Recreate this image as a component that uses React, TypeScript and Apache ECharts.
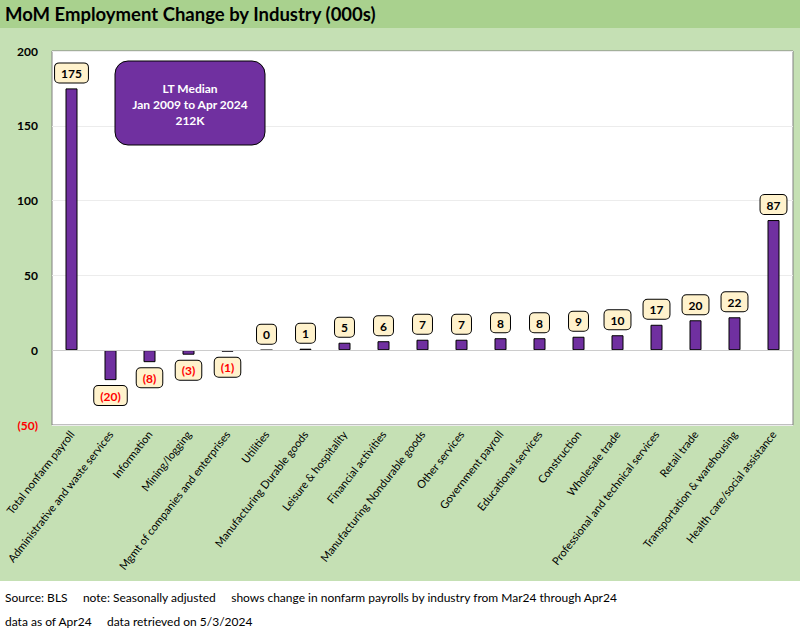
import React, { useEffect, useRef } from "react";
import * as echarts from "echarts";

const categories = [
  "Total nonfarm payroll",
  "Administrative and waste services",
  "Information",
  "Mining/logging",
  "Mgmt of companies and enterprises",
  "Utilities",
  "Manufacturing Durable goods",
  "Leisure & hospitality",
  "Financial activities",
  "Manufacturing Nondurable goods",
  "Other services",
  "Government payroll",
  "Educational services",
  "Construction",
  "Wholesale trade",
  "Professional and technical services",
  "Retail trade",
  "Transportation & warehousing",
  "Health care/social assistance",
];

const values = [175, -20, -8, -3, -1, 0, 1, 5, 6, 7, 7, 8, 8, 9, 10, 17, 20, 22, 87];

const yTicks = [-50, 0, 50, 100, 150, 200];

const titleText = "MoM Employment Change by Industry (000s)";
const boxLines = ["LT Median", "Jan 2009 to Apr 2024", "212K"];
const footer1 =
  "Source: BLS     note: Seasonally adjusted     shows change in nonfarm payrolls by industry from Mar24 through Apr24";
const footer2 = "data as of Apr24     data retrieved on 5/3/2024";

const FONT = "Lato";
const fmt = (v: number) => (v < 0 ? `(${Math.abs(v)})` : `${v}`);

export default function App() {
  const ref = useRef<HTMLDivElement>(null);
  useEffect(() => {
    if (!ref.current) return;
    const chart = echarts.init(ref.current, undefined, { renderer: "svg" });
    const data = values.map((v) => ({
      value: v,
      label: {
        show: true,
        position: v < 0 ? "bottom" : "top",
        distance: 6,
        formatter: () => fmt(v),
        color: v < 0 ? "#ff0000" : "#000000",
        fontWeight: "bold",
        fontSize: 12,
        fontFamily: FONT,
        backgroundColor: "#fff2cc",
        borderColor: "#000000",
        borderWidth: 1,
        borderRadius: 4,
        padding: [4, 6, 3, 6],
      },
    }));
    chart.setOption({
      animation: false,
      backgroundColor: "#ffffff",
      textStyle: { fontFamily: FONT },
      graphic: [
        {
          type: "rect",
          z: -10,
          silent: true,
          shape: { x: 0, y: 0, width: 800, height: 28 },
          style: { fill: "#a9d18e" },
        },
        {
          type: "rect",
          z: -10,
          silent: true,
          shape: { x: 0, y: 28, width: 800, height: 553 },
          style: { fill: "#c5e0b4" },
        },
        {
          type: "text",
          x: 5,
          y: 14,
          style: {
            text: titleText,
            fill: "#000000",
            font: `bold 18.5px ${FONT}`,
            textVerticalAlign: "middle",
          },
        },
        {
          type: "rect",
          z: 10,
          shape: { x: 115, y: 61, width: 150, height: 84, r: 13 },
          style: { fill: "#7030a0", stroke: "#000000", lineWidth: 1 },
        },
        ...boxLines.map((t, i) => ({
          type: "text",
          z: 11,
          x: 190,
          y: 88 + i * 16,
          style: {
            text: t,
            fill: "#ffffff",
            font: `bold 12px ${FONT}`,
            textAlign: "center",
            textVerticalAlign: "middle",
          },
        })),
        {
          type: "text",
          x: 5,
          y: 597,
          style: {
            text: footer1,
            fill: "#000000",
            font: `12px ${FONT}`,
            textVerticalAlign: "middle",
          },
        },
        {
          type: "text",
          x: 5,
          y: 621,
          style: {
            text: footer2,
            fill: "#000000",
            font: `12px ${FONT}`,
            textVerticalAlign: "middle",
          },
        },
      ],
      grid: {
        left: 52,
        right: 7,
        top: 51,
        bottom: 206,
        outerBoundsMode: "none",
        containLabel: false,
        show: true,
        backgroundColor: "#ffffff",
        borderColor: "#808080",
        borderWidth: 1,
      },
      xAxis: {
        type: "category",
        data: categories,
        axisLine: { show: false, onZero: false },
        axisTick: { show: false },
        axisLabel: {
          rotate: 52,
          interval: 0,
          margin: 7,
          fontSize: 11,
          color: "#000000",
          fontFamily: FONT,
        },
      },
      yAxis: {
        type: "value",
        min: yTicks[0],
        max: yTicks[yTicks.length - 1],
        interval: 50,
        axisLine: { show: false },
        axisTick: { show: false },
        splitLine: { lineStyle: { color: "#ececec", width: 1 } },
        axisLabel: {
          margin: 14,
          fontSize: 12,
          fontWeight: "bold",
          fontFamily: FONT,
          formatter: (v: number) => fmt(v),
          color: (v: any) => (Number(v) < 0 ? "#ff0000" : "#000000"),
        },
      },
      series: [
        {
          type: "bar",
          data,
          barWidth: 12,
          itemStyle: { color: "#7030a0", borderColor: "#000000", borderWidth: 1 },
          markLine: {
            silent: true,
            symbol: "none",
            label: { show: false },
            lineStyle: { color: "#cccccc", type: "solid", width: 1 },
            data: [{ yAxis: 0 }],
          },
        },
      ],
    });
    return () => chart.dispose();
  }, []);
  return (
    <div
      ref={ref}
      style={{ position: "fixed", left: 0, top: 0, width: 800, height: 631 }}
    />
  );
}
